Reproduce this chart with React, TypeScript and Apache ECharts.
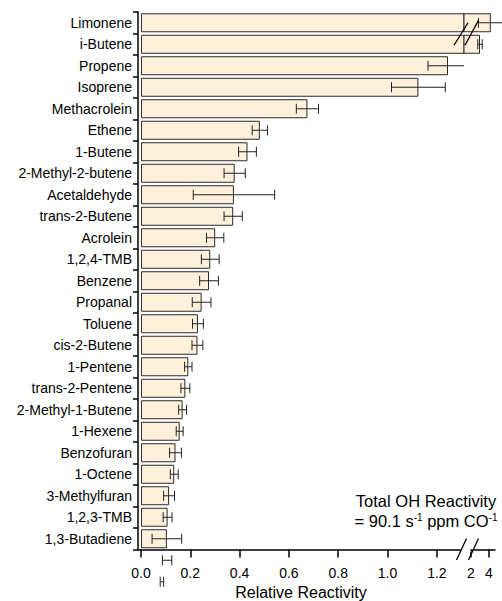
import React, { useEffect, useRef } from 'react';
import * as echarts from 'echarts';

// Compounds ranked by their share of the total OH reactivity
const compounds = [
  'Limonene', 'i-Butene', 'Propene', 'Isoprene', 'Methacrolein', 'Ethene', '1-Butene',
  '2-Methyl-2-butene', 'Acetaldehyde', 'trans-2-Butene', 'Acrolein', '1,2,4-TMB', 'Benzene',
  'Propanal', 'Toluene', 'cis-2-Butene', '1-Pentene', 'trans-2-Pentene', '2-Methyl-1-Butene',
  '1-Hexene', 'Benzofuran', '1-Octene', '3-Methylfuran', '1,2,3-TMB', '1,3-Butadiene',
];

// Relative reactivity of each compound
const reactivity = [
  4.2, 3.0, 1.245, 1.125, 0.675, 0.482, 0.432, 0.38, 0.377, 0.374, 0.301, 0.281, 0.276,
  0.246, 0.231, 0.229, 0.192, 0.18, 0.169, 0.157, 0.14, 0.135, 0.114, 0.108, 0.105,
];

// Uncertainty (half width of the whisker)
const uncertainty = [
  1.38, 0.25, 0.081, 0.109, 0.045, 0.031, 0.036, 0.043, 0.165, 0.037, 0.035, 0.036, 0.038,
  0.038, 0.022, 0.022, 0.015, 0.018, 0.016, 0.014, 0.024, 0.016, 0.022, 0.018, 0.06,
];

// Two whiskers whose rows fall below the last category
const strayCentres = [0.106, 0.085];
const strayErrors = [0.019, 0.007];

const lowTicks = [0, 0.2, 0.4, 0.6, 0.8, 1.0, 1.2];
const highTicks = [2, 4];

const FONT = '"Liberation Sans", Arial, Helvetica, sans-serif';
const INK = '#000';
const FILL = '#FDF1DC';
const EDGE = '#2a2a2a';

const GRID_TOP = 12;
const AXIS_Y = 549.5;
const LEFT_X = 138;
const BREAK_X = 464;
const RIGHT_END = 495;

// value ranges of the two axis segments
const LOW_MIN = -0.012;
const LOW_MAX = 1.31;
const HIGH_MIN = 1.222;
const HIGH_MAX = 4.667;

const whiskerData = compounds
  .map((_, i) => [reactivity[i], uncertainty[i], i])
  .concat(strayCentres.map((c, k) => [c, strayErrors[k], compounds.length + k]));

// whiskers of the left segment are cut at the break; the right segment only
// carries the values that run past the break
const whiskers = (segment: 'low' | 'high') => (params: any, api: any) => {
  const cs = params.coordSys;
  const v = api.value(0);
  const e = api.value(1);
  const row = api.value(2);
  if (segment === 'high' && v <= LOW_MAX) return null;
  if (segment === 'low' && v - e >= LOW_MAX) return null;
  const mid = api.coord([v, row]);
  const lo = api.coord([v - e, row]);
  const hi = api.coord([v + e, row]);
  const right = cs.x + cs.width;
  const y = mid[1];
  const cap = 5;
  const xr = segment === 'low' ? Math.min(hi[0], right) : hi[0];
  const style = { stroke: '#222', lineWidth: 1 };
  const children: any[] = [
    { type: 'line', shape: { x1: lo[0], y1: y, x2: xr, y2: y }, style },
    { type: 'line', shape: { x1: lo[0], y1: y - cap, x2: lo[0], y2: y + cap }, style },
  ];
  if (xr === hi[0]) {
    children.push({ type: 'line', shape: { x1: hi[0], y1: y - cap, x2: hi[0], y2: y + cap }, style });
  }
  return { type: 'group', children };
};

const axisLineStyle = { color: INK, width: 1.5 };

export default function App() {
  const ref = useRef<HTMLDivElement>(null);

  useEffect(() => {
    if (!ref.current) return;
    const chart = echarts.init(ref.current, null, { renderer: 'svg' });
    const band = (AXIS_Y - GRID_TOP) / compounds.length;
    const rowY = (i: number) => GRID_TOP + band * (i + 0.5);

    const slash = (x1: number, y1: number, x2: number, y2: number) => ({
      type: 'line',
      z: 100,
      shape: { x1, y1, x2, y2 },
      style: { stroke: INK, lineWidth: 1.3 },
    });

    const option: any = {
      animation: false,
      textStyle: { fontFamily: FONT },
      grid: [
        { left: LEFT_X, top: GRID_TOP, width: BREAK_X - LEFT_X, height: AXIS_Y - GRID_TOP, containLabel: false, outerBoundsMode: 'none' },
        { left: BREAK_X, top: GRID_TOP, width: RIGHT_END - BREAK_X, height: AXIS_Y - GRID_TOP, containLabel: false, outerBoundsMode: 'none' },
      ],
      xAxis: [
        {
          gridIndex: 0,
          type: 'value',
          position: 'bottom',
          min: LOW_MIN,
          max: LOW_MAX,
          axisLine: { show: true, onZero: false, lineStyle: axisLineStyle },
          axisTick: { show: true, inside: false, length: 8, customValues: lowTicks, lineStyle: axisLineStyle },
          axisLabel: {
            show: true,
            customValues: lowTicks,
            formatter: (v: number) => v.toFixed(1),
            margin: 16.5,
            fontSize: 14,
            color: INK,
            fontFamily: FONT,
          },
          splitLine: { show: false },
          name: 'Relative Reactivity',
          nameLocation: 'middle',
          nameGap: 35,
          nameTextStyle: { fontSize: 16, color: INK, fontFamily: FONT },
        },
        {
          gridIndex: 1,
          type: 'value',
          position: 'bottom',
          min: HIGH_MIN,
          max: HIGH_MAX,
          axisLine: { show: true, onZero: false, lineStyle: axisLineStyle },
          axisTick: { show: true, inside: false, length: 8, customValues: highTicks, lineStyle: axisLineStyle },
          axisLabel: {
            show: true,
            customValues: highTicks,
            formatter: (v: number) => String(v),
            margin: 16.5,
            fontSize: 14,
            color: INK,
            fontFamily: FONT,
          },
          splitLine: { show: false },
        },
      ],
      yAxis: [
        {
          gridIndex: 0,
          type: 'category',
          data: compounds,
          inverse: true,
          axisLine: { show: true, onZero: false, lineStyle: axisLineStyle },
          axisTick: { show: true, inside: false, length: 5, lineStyle: axisLineStyle },
          axisLabel: { interval: 0, margin: 6, fontSize: 14, color: INK, fontFamily: FONT },
          splitLine: { show: false },
        },
        {
          gridIndex: 1,
          type: 'category',
          data: compounds,
          inverse: true,
          show: false,
        },
      ],
      series: [
        {
          type: 'bar',
          xAxisIndex: 0,
          yAxisIndex: 0,
          data: reactivity,
          barWidth: 19,
          clip: true,
          itemStyle: { color: FILL, borderColor: EDGE, borderWidth: 1 },
        },
        {
          type: 'bar',
          xAxisIndex: 1,
          yAxisIndex: 1,
          data: reactivity.map((v) => (v > LOW_MAX ? v : null)),
          barWidth: 19,
          clip: true,
          itemStyle: { color: FILL, borderColor: EDGE, borderWidth: 1 },
        },
        {
          type: 'custom',
          xAxisIndex: 0,
          yAxisIndex: 0,
          data: whiskerData,
          encode: { x: 0, y: 2 },
          renderItem: whiskers('low'),
          z: 5,
        },
        {
          type: 'custom',
          xAxisIndex: 1,
          yAxisIndex: 1,
          data: whiskerData,
          encode: { x: 0, y: 2 },
          renderItem: whiskers('high'),
          z: 5,
        },
      ],
      graphic: [
        // gap in the value axis at the break
        {
          type: 'rect',
          z: 99,
          shape: { x: BREAK_X - 2, y: AXIS_Y - 2.5, width: 8.5, height: 5 },
          style: { fill: '#fff' },
        },
        slash(BREAK_X - 7.5, AXIS_Y + 10.5, BREAK_X + 2.5, AXIS_Y - 11),
        slash(BREAK_X + 4.5, AXIS_Y + 10.5, BREAK_X + 14.5, AXIS_Y - 11),
        // break marks across the two longest bars
        slash(BREAK_X - 10, rowY(1) + 1, BREAK_X + 4, rowY(0)),
        slash(BREAK_X + 1, rowY(1) + 1, BREAK_X + 14.5, rowY(0) - 2.5),
        {
          type: 'text',
          z: 100,
          x: 426,
          y: 501,
          style: {
            text: 'Total OH Reactivity',
            fill: INK,
            font: `16.5px ${FONT}`,
            align: 'center',
            verticalAlign: 'middle',
          },
        },
        {
          type: 'text',
          z: 100,
          x: 426,
          y: 521,
          style: {
            text: '{m|= 90.1 s}{s|-1}{m| ppm CO}{s|-1}',
            align: 'center',
            verticalAlign: 'middle',
            rich: {
              m: { fontSize: 16.5, fontFamily: FONT, fill: INK },
              s: { fontSize: 10, fontFamily: FONT, fill: INK, verticalAlign: 'top' },
            },
          },
        },
      ],
    };

    chart.setOption(option);
    return () => chart.dispose();
  }, []);

  return (
    <div
      ref={ref}
      style={{ position: 'absolute', left: 0, top: 0, width: 502, height: 601, background: '#fff' }}
    />
  );
}
